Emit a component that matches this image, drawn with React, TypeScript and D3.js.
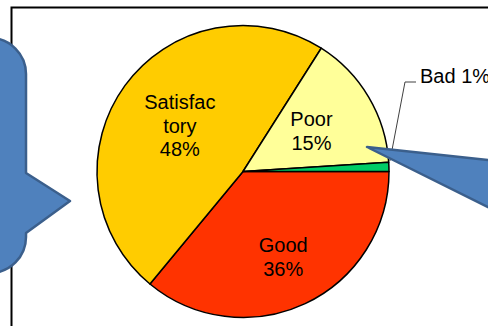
import React from "react";
import * as d3 from "d3";

const categories = ["Good", "Satisfactory", "Poor", "Bad"];
const values = [36, 48, 15, 1];
const labelLines = [["Good", "36%"], ["Satisfac", "tory", "48%"], ["Poor", "15%"], ["Bad 1%"]];
const colors = ["#FF3300", "#FFCC00", "#FFFF99", "#00CC66"];
// label radius as fraction of pie radius (inside labels)
const labelRadiusFrac = [0.647, 0.535, 0.545, 0];

const W = 488;
const H = 326;
const cx = 243;
const cy = 171.5;
const R = 146;
const FONT = "'Liberation Sans', Arial, sans-serif";
const FS = 20;
const LH = 23.5;

export default function App() {
  const pie = d3
    .pie<number>()
    .sort(null)
    .startAngle(Math.PI / 2)
    .endAngle(Math.PI / 2 + 2 * Math.PI)(values);
  const arc = d3.arc<d3.PieArcDatum<number>>().innerRadius(0).outerRadius(R);

  const bad = pie[3];
  const badMid = (bad.startAngle + bad.endAngle) / 2;
  const lp0 = [Math.sin(badMid) * R * 1.0, -Math.cos(badMid) * R * 1.0];
  const leader = d3.line()([
    [cx + lp0[0] + 1, cy + lp0[1] - 6],
    [405, 82],
    [416, 82],
  ]);

  const leftCallout = (() => {
    const p = d3.path();
    const x0 = -60, x1 = 26, y0 = 38, y1 = 273, r = 36;
    p.moveTo(x0, y0);
    p.lineTo(x1 - r, y0);
    p.arcTo(x1, y0, x1, y0 + r, r);
    p.lineTo(x1, 173);
    p.lineTo(70, 201);
    p.lineTo(x1, 233);
    p.lineTo(x1, y1 - r);
    p.arcTo(x1, y1, x1 - r, y1, r);
    p.lineTo(x0, y1);
    p.closePath();
    return p.toString();
  })();

  const rightCallout = (() => {
    const p = d3.path();
    p.moveTo(367, 147);
    p.lineTo(510, 162.3);
    p.lineTo(510, 218);
    p.closePath();
    return p.toString();
  })();

  return (
    <div style={{ position: "absolute", left: 0, top: 0 }}>
      <svg width={W} height={H} style={{ display: "block" }}>
        <rect x={0} y={0} width={W} height={H} fill="#fff" />
        <rect x={11.5} y={7.5} width={700} height={500} fill="#fff" stroke="#000" strokeWidth={2} />
        <g transform={`translate(${cx},${cy})`}>
          {pie.map((d, i) => (
            <path key={categories[i]} d={arc(d) || ""} fill={colors[i]} stroke="#000" strokeWidth={1.5} strokeLinejoin="round" />
          ))}
          {pie.map((d, i) => {
            if (i === 3) return null;
            const mid = (d.startAngle + d.endAngle) / 2;
            const lr = labelRadiusFrac[i] * R;
            const x = Math.sin(mid) * lr;
            const y = -Math.cos(mid) * lr;
            const lines = labelLines[i];
            const firstBase = y + 7 - ((lines.length - 1) * LH) / 2;
            return (
              <text key={"l" + i} textAnchor="middle" fontFamily={FONT} fontSize={FS} fill="#000">
                {lines.map((t, j) => (
                  <tspan key={j} x={x} y={firstBase + j * LH}>
                    {t}
                  </tspan>
                ))}
              </text>
            );
          })}
        </g>
        <path d={leader || ""} fill="none" stroke="#404040" strokeWidth={1} />
        <text x={420} y={83} fontFamily={FONT} fontSize={FS} fill="#000">
          {labelLines[3][0]}
        </text>
        <path d={leftCallout} fill="#4F81BD" stroke="#3B5F8C" strokeWidth={2.5} strokeLinejoin="round" />
        <path d={rightCallout} fill="#4F81BD" stroke="#3B5F8C" strokeWidth={2.5} strokeLinejoin="round" />
      </svg>
    </div>
  );
}
